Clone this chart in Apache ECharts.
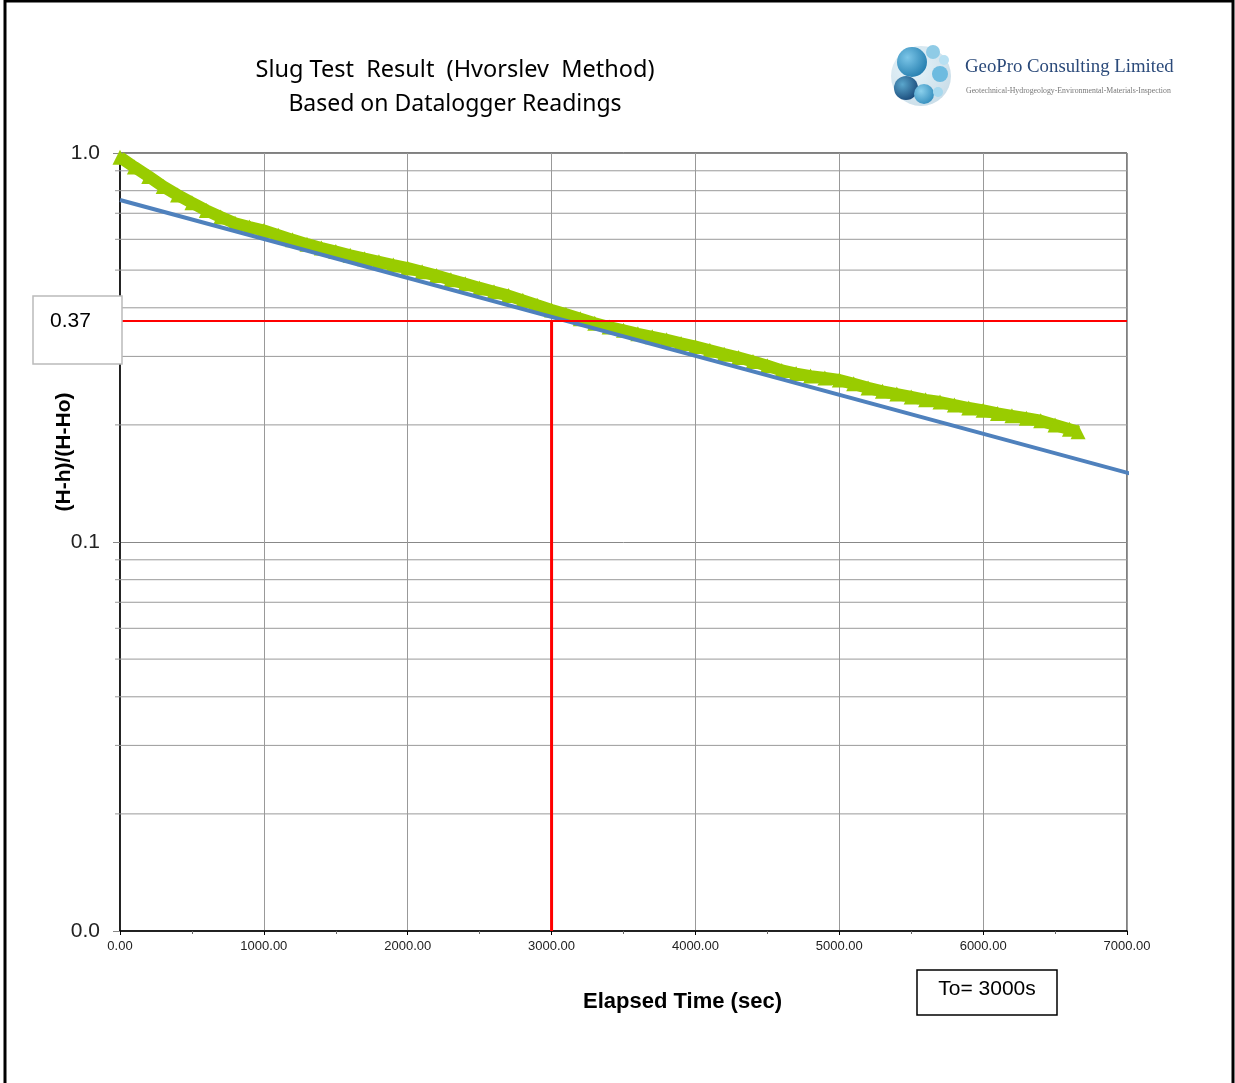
<!DOCTYPE html>
<html>
<head>
<meta charset="utf-8">
<title>Slug Test Result</title>
<script src="https://cdn.jsdelivr.net/npm/echarts@6/dist/echarts.min.js"></script>
<style>
  html, body { margin: 0; padding: 0; background: #fff; }
  #main { width: 1235px; height: 1083px; }
</style>
</head>
<body>
<div id="main"></div>
<script>
// elapsed time (sec) of the plotted datalogger readings
var times = [
  0, 100, 200, 300, 400, 500, 600, 700, 800, 900,
  1000, 1100, 1200, 1300, 1400, 1500, 1600, 1700, 1800, 1900,
  2000, 2100, 2200, 2300, 2400, 2500, 2600, 2700, 2800, 2900,
  3000, 3100, 3200, 3300, 3400, 3500, 3600, 3700, 3800, 3900,
  4000, 4100, 4200, 4300, 4400, 4500, 4600, 4700, 4800, 4900,
  5000, 5100, 5200, 5300, 5400, 5500, 5600, 5700, 5800, 5900,
  6000, 6100, 6200, 6300, 6400, 6500, 6600, 6660
];
// (H-h)/(H-Ho) readings
var ratios = [
  0.975, 0.92, 0.87, 0.82, 0.78, 0.745, 0.712, 0.685, 0.66, 0.645,
  0.632, 0.615, 0.598, 0.583, 0.570, 0.558, 0.546, 0.535, 0.525, 0.515,
  0.506, 0.495, 0.484, 0.472, 0.461, 0.450, 0.440, 0.430, 0.418, 0.406,
  0.395, 0.385, 0.375, 0.365, 0.357, 0.350, 0.343, 0.337, 0.331, 0.324,
  0.318, 0.311, 0.304, 0.298, 0.291, 0.284, 0.276, 0.271, 0.267, 0.264,
  0.261, 0.255, 0.249, 0.244, 0.240, 0.236, 0.232, 0.229, 0.225, 0.221,
  0.218, 0.214, 0.211, 0.208, 0.205, 0.200, 0.195, 0.192
];
// straight-line fit
var fitTimes = [0, 7020];
var fitRatios = [0.757, 0.15];
// basic time lag
var t0 = 3000;
var t0Ratio = 0.37;
// minor log grid lines
var minorGrid = [0.02, 0.03, 0.04, 0.05, 0.06, 0.07, 0.08, 0.09,
                 0.2, 0.3, 0.4, 0.5, 0.6, 0.7, 0.8, 0.9];

var chart = echarts.init(document.getElementById('main'));

var readings = times.map(function (t, i) { return [t, ratios[i]]; });
var fit = fitTimes.map(function (t, i) { return [t, fitRatios[i]]; });

chart.setOption({
  animation: false,
  grid: {
    left: 120, right: 108, top: 153, bottom: 152,
    show: true, borderColor: '#000', borderWidth: 1
  },
  xAxis: {
    type: 'value', min: 0, max: 7000, interval: 1000,
    name: 'Elapsed Time (sec)', nameLocation: 'middle', nameGap: 60,
    nameTextStyle: { fontFamily: 'Liberation Sans', fontSize: 22, fontWeight: 'bold', color: '#000', padding: [0, 0, 0, 118] },
    axisLine: { lineStyle: { color: '#000', width: 1.5 } },
    axisTick: { show: true, length: 4, lineStyle: { color: '#000' } },
    minorTick: { show: true, splitNumber: 2, length: 3, lineStyle: { color: '#666' } },
    axisLabel: {
      fontFamily: 'Liberation Sans', fontSize: 13, color: '#222', margin: 9,
      formatter: function (v) { return v.toFixed(2); }
    },
    splitLine: { show: true, lineStyle: { color: '#999', width: 1 } }
  },
  yAxis: {
    type: 'log', logBase: 10, min: 0.01, max: 1,
    name: '(H-h)/(H-Ho)', nameLocation: 'middle', nameGap: 45, nameRotate: 90,
    nameMoveOverlap: false,
    nameTextStyle: { fontFamily: 'Liberation Sans', fontSize: 21, fontWeight: 'bold', color: '#000', padding: [0, 0, 0, 180] },
    axisLine: { show: true, lineStyle: { color: '#000', width: 1.5 } },
    axisTick: { show: true, length: 7, lineStyle: { color: '#888' } },
    axisLabel: {
      fontFamily: 'Liberation Sans', fontSize: 21, color: '#222', margin: 20,
      formatter: function (v) { return v.toFixed(1); }
    },
    splitLine: { show: true, lineStyle: { color: '#888', width: 1 } }
  },
  graphic: [
    { type: 'rect', shape: { x: 5, y: 1, width: 1228, height: 1200 },
      style: { fill: null, stroke: '#000', lineWidth: 3 }, z: 0 },
    { type: 'text', x: 455, y: 70,
      style: { text: 'Slug Test  Result  (Hvorslev  Method)', fontFamily: 'Noto Sans', fontSize: 23.5,
               fill: '#000', textAlign: 'center', textVerticalAlign: 'middle' } },
    { type: 'text', x: 455, y: 104,
      style: { text: 'Based on Datalogger Readings', fontFamily: 'Noto Sans', fontSize: 23,
               fill: '#000', textAlign: 'center', textVerticalAlign: 'middle' } },
    // logo
    { type: 'circle', shape: { cx: 921, cy: 76, r: 30 },
      style: { fill: new echarts.graphic.RadialGradient(0.35, 0.35, 0.8, [
        { offset: 0, color: '#9fd6ee' }, { offset: 1, color: '#1f6f9e' }]), opacity: 0.25 } },
    { type: 'circle', shape: { cx: 912, cy: 62, r: 15 },
      style: { fill: new echarts.graphic.RadialGradient(0.35, 0.35, 0.8, [
        { offset: 0, color: '#7cc6e8' }, { offset: 1, color: '#1a75a8' }]) } },
    { type: 'circle', shape: { cx: 906, cy: 88, r: 12 },
      style: { fill: new echarts.graphic.RadialGradient(0.35, 0.35, 0.8, [
        { offset: 0, color: '#5aa6cc' }, { offset: 1, color: '#123f70' }]) } },
    { type: 'circle', shape: { cx: 924, cy: 94, r: 10 },
      style: { fill: new echarts.graphic.RadialGradient(0.35, 0.35, 0.8, [
        { offset: 0, color: '#8bd0ec' }, { offset: 1, color: '#2a86b8' }]) } },
    { type: 'circle', shape: { cx: 933, cy: 52, r: 7 },
      style: { fill: '#8fcbe6' } },
    { type: 'circle', shape: { cx: 940, cy: 74, r: 8 },
      style: { fill: '#6dbbe0' } },
    { type: 'circle', shape: { cx: 944, cy: 60, r: 5 },
      style: { fill: '#b8e0f2' } },
    { type: 'circle', shape: { cx: 938, cy: 92, r: 5 },
      style: { fill: '#a6d8ee' } },
    { type: 'text', x: 965, y: 67,
      style: { text: 'GeoPro Consulting Limited', fontFamily: 'Liberation Serif', fontSize: 18.8,
               fill: '#2b4a7a', textVerticalAlign: 'middle' } },
    { type: 'text', x: 966, y: 91,
      style: { text: 'Geotechnical-Hydrogeology-Environmental-Materials-Inspection', fontFamily: 'Liberation Serif', fontSize: 7.8,
               fill: '#777', textVerticalAlign: 'middle' } },
    // 0.37 label box
    { type: 'rect', shape: { x: 33, y: 296, width: 89, height: 68 },
      style: { fill: '#fff', stroke: '#bbb', lineWidth: 1.5 }, z: 20 },
    { type: 'text', x: 50, y: 321, z: 21,
      style: { text: '0.37', fontFamily: 'Liberation Sans', fontSize: 21, fill: '#000', textVerticalAlign: 'middle' } },
    // To box
    { type: 'rect', shape: { x: 917, y: 970, width: 140, height: 45 },
      style: { fill: '#fff', stroke: '#000', lineWidth: 1.5 }, z: 20 },
    { type: 'text', x: 987, y: 989, z: 21,
      style: { text: 'To= ' + t0 + 's', fontFamily: 'Liberation Sans', fontSize: 21, fill: '#000',
               textAlign: 'center', textVerticalAlign: 'middle' } }
  ],
  series: [
    {
      name: 'minor grid',
      type: 'custom',
      silent: true,
      z: 1,
      data: minorGrid,
      renderItem: function (params, api) {
        var v = api.value(0);
        var a = api.coord([0, v]);
        var b = api.coord([7000, v]);
        return {
          type: 'line',
          shape: { x1: a[0] - 5, y1: a[1], x2: b[0], y2: b[1] },
          style: { stroke: '#999', lineWidth: 1 }
        };
      },
      encode: { x: -1, y: 0 }
    },
    {
      name: 'readings',
      type: 'line',
      data: readings,
      symbol: 'triangle',
      symbolSize: 15,
      showAllSymbol: true,
      itemStyle: { color: '#99cc00' },
      lineStyle: { color: '#99cc00', width: 12 },
      z: 3
    },
    {
      name: 'fit',
      type: 'line',
      data: fit,
      symbol: 'none',
      clip: false,
      lineStyle: { color: '#4f81bd', width: 4 },
      z: 4
    },
    {
      name: 'To',
      type: 'line',
      data: [[0, t0Ratio], [7000, t0Ratio]],
      symbol: 'none',
      lineStyle: { color: '#ff0000', width: 2 },
      z: 5
    },
    {
      name: 'To vertical',
      type: 'line',
      data: [[t0, t0Ratio], [t0, 0.01]],
      symbol: 'none',
      lineStyle: { color: '#ff0000', width: 3 },
      z: 5
    }
  ]
});
</script>
</body>
</html>
